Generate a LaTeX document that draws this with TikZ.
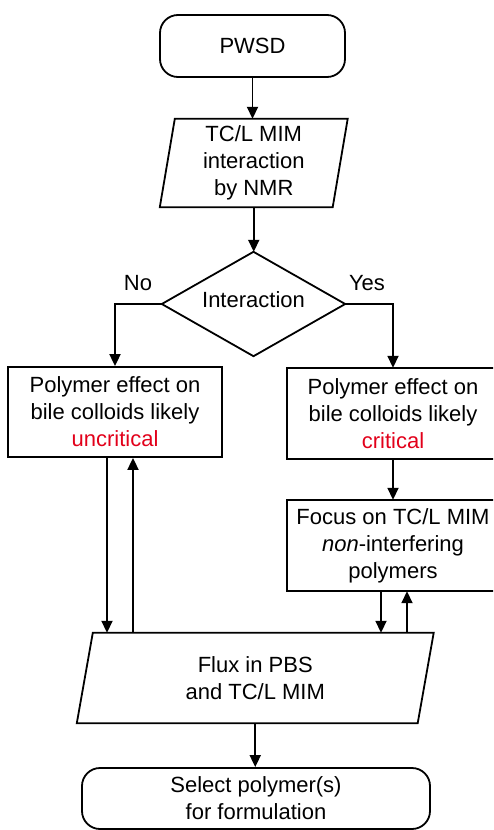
\documentclass[tikz,border=0pt]{standalone}
\usepackage{fontspec}
\setmainfont{Liberation Sans}
\usetikzlibrary{arrows.meta}
\definecolor{critred}{RGB}{226,0,26}
\begin{document}
\begin{tikzpicture}[x=1pt,y=-1pt,
  txt/.style={inner sep=0pt, align=center, font=\fontsize{22}{27}\selectfont},
  outl/.style={draw=black, line width=1.8pt},
  conn/.style={line width=1.8pt, -{Triangle[length=12pt,width=11pt]}},
  lbl/.style={inner sep=0pt, font=\fontsize{22}{27}\selectfont}]
\useasboundingbox (0,0) rectangle (493,830);
\clip (0,0) rectangle (493,830);

% nodes
\node[txt, outl, rounded corners=18pt, minimum width=185pt, minimum height=62pt] (start) at (252.5,46) {PWSD};

\node[txt, minimum width=172.5pt, minimum height=88pt] (nmr) at (253.75,163) {TC/L MIM\\interaction\\by NMR};
\draw[outl] ([xshift=7.5pt]nmr.north west) -- ([xshift=7.5pt]nmr.north east) -- ([xshift=-7.5pt]nmr.south east) -- ([xshift=-7.5pt]nmr.south west) -- cycle;

\node[inner sep=0pt, minimum width=183pt, minimum height=104pt] (dec) at (253.5,304) {};
\draw[outl] (dec.north) -- (dec.east) -- (dec.south) -- (dec.west) -- cycle;
\node[lbl, yshift=4.5pt] (dectxt) at (dec.center) {Interaction};

\node[lbl] (no) at (138,283) {No};
\node[lbl] (yes) at (367,283) {Yes};

\node[txt, outl, minimum width=214pt, minimum height=90pt] (unc) at (115,412) {Polymer effect on\\bile colloids likely\\\textcolor{critred}{uncritical}};

\node[txt, minimum width=212pt, minimum height=91pt] (crit) at (393,413.5) {Polymer effect on\\bile colloids likely\\\textcolor{critred}{critical}};
\draw[outl] ([xshift=40pt]crit.north east) -- (crit.north west) -- (crit.south west) -- ([xshift=40pt]crit.south east);

\node[txt, minimum width=212pt, minimum height=91pt] (focus) at (393,545.5) {Focus on TC/L MIM\\\textit{non}-interfering\\polymers};
\draw[outl] ([xshift=40pt]focus.north east) -- (focus.north west) -- (focus.south west) -- ([xshift=40pt]focus.south east);

\node[txt, minimum width=340.5pt, minimum height=90pt] (flux) at (255.25,678) {Flux in PBS\\and TC/L MIM};
\draw[outl] ([xshift=8pt]flux.north west) -- ([xshift=8pt]flux.north east) -- ([xshift=-8pt]flux.south east) -- ([xshift=-8pt]flux.south west) -- cycle;

\node[txt, outl, rounded corners=18pt, minimum width=348pt, minimum height=61pt] (final) at (256,798.5) {Select polymer(s)\\for formulation};

% connectors
\draw[conn] (start.south) -- (start.south |- nmr.north);
\draw[conn] (nmr.south) -- (nmr.south |- dec.north);
\draw[conn] (dec.west) -| (unc.north);
\draw[conn] (dec.east) -| (crit.north);
\draw[conn] (crit.south) -- (focus.north);
\draw[conn] ([xshift=-8pt]unc.south) -- ([xshift=-8pt]unc.south |- flux.north);
\draw[conn] ([xshift=18pt]unc.south |- flux.north) -- ([xshift=18pt]unc.south);
\draw[conn] ([xshift=-12pt]focus.south) -- ([xshift=-12pt]focus.south |- flux.north);
\draw[conn] ([xshift=14pt]focus.south |- flux.north) -- ([xshift=14pt]focus.south);
\draw[conn] (flux.south) -- (flux.south |- final.north);
\end{tikzpicture}
\end{document}
